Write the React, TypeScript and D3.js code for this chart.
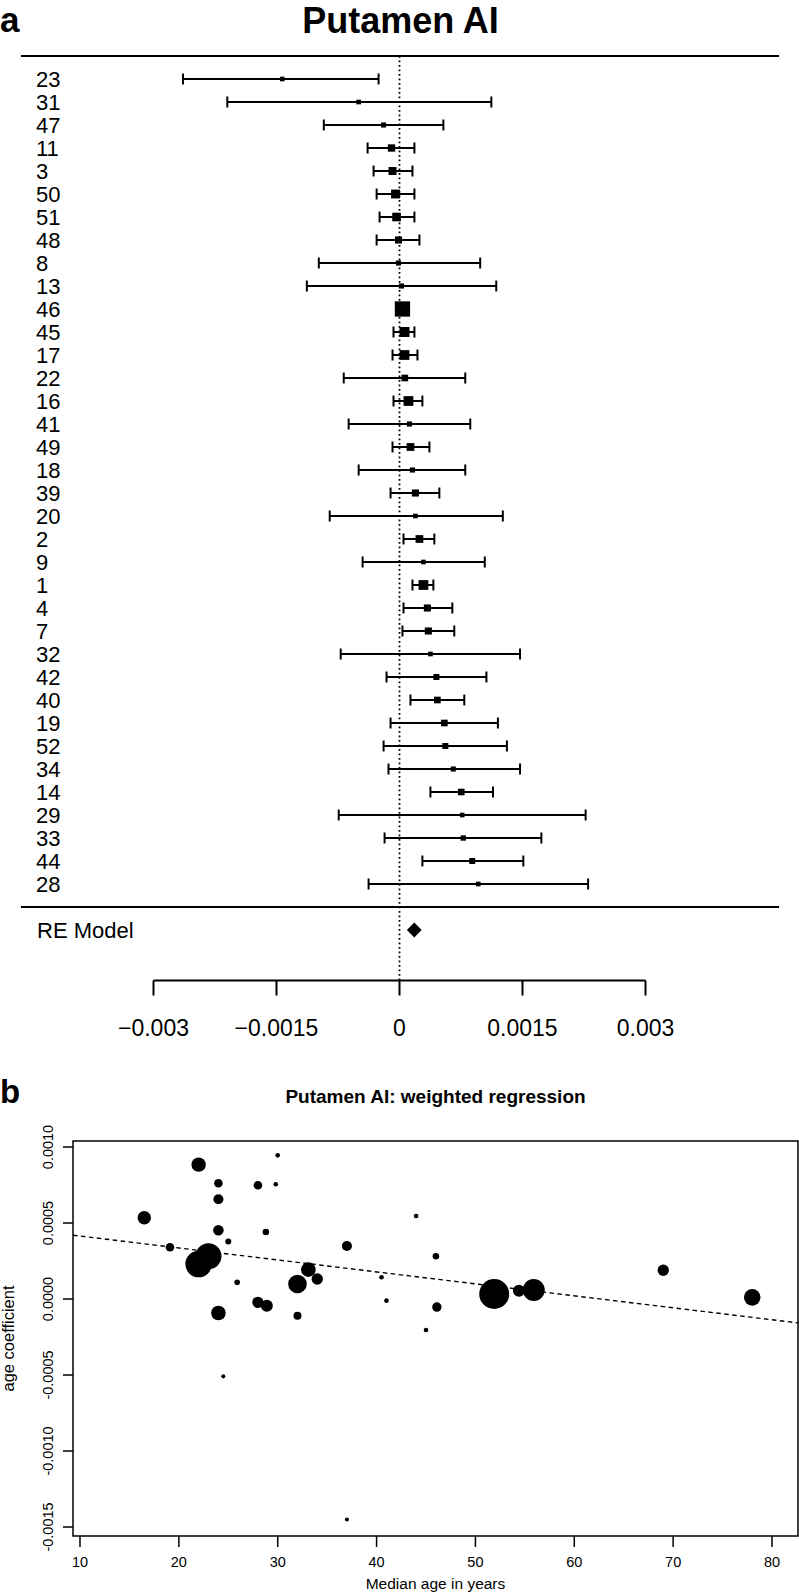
import * as d3 from 'd3';
import { type FC } from 'react';

// panel a: forest plot rows, top to bottom
const studyLabels = ['23', '31', '47', '11', '3', '50', '51', '48', '8', '13', '46', '45', '17', '22', '16', '41', '49', '18', '39', '20', '2', '9', '1', '4', '7', '32', '42', '40', '19', '52', '34', '14', '29', '33', '44', '28'];
// estimates and 95% CI, in units of 1e-4
const estimates = [-14.3, -4.98, -1.94, -0.97, -0.85, -0.49, -0.36, -0.12, -0.12, 0.24, 0.36, 0.61, 0.61, 0.65, 1.09, 1.22, 1.34, 1.58, 1.94, 1.94, 2.43, 2.92, 2.92, 3.4, 3.52, 3.77, 4.5, 4.62, 5.47, 5.59, 6.56, 7.53, 7.65, 7.78, 8.87, 9.6];
const ciLower = [-26.4, -21.0, -9.23, -3.89, -3.16, -2.79, -2.43, -2.79, -9.84, -11.3, -0.4, -0.73, -0.85, -6.8, -0.73, -6.2, -0.85, -4.98, -1.09, -8.51, 0.49, -4.5, 1.58, 0.49, 0.36, -7.17, -1.58, 1.34, -1.09, -1.94, -1.34, 3.77, -7.41, -1.82, 2.79, -3.77];
const ciUpper = [-2.55, 11.2, 5.35, 1.82, 1.58, 1.82, 1.82, 2.43, 9.84, 11.8, 1.1, 1.82, 2.19, 8.02, 2.79, 8.63, 3.65, 8.02, 4.86, 12.6, 4.25, 10.4, 4.13, 6.44, 6.68, 14.7, 10.6, 7.9, 12.0, 13.1, 14.7, 11.4, 22.7, 17.3, 15.1, 23.0];
// relative study weights (%)
const studyWeights = [2.1, 2.1, 2.3, 3.3, 3.6, 4.0, 3.9, 3.2, 2.3, 2.3, 6.9, 4.5, 4.4, 3.0, 4.4, 2.3, 3.5, 2.3, 3.2, 2.1, 3.5, 2.1, 4.4, 3.2, 3.2, 2.1, 2.7, 3.0, 3.0, 2.7, 2.3, 3.0, 2.1, 2.4, 2.7, 2.1];
const reModel = { est: 1.8, lo: 0.9, hi: 2.7 };
const forestTicks = [-0.003, -0.0015, 0, 0.0015, 0.003];
const forestTickLabels = ['\u22120.003', '\u22120.0015', '0', '0.0015', '0.003'];

// panel b: weighted regression
const medianAge = [22.0, 24.0, 28.0, 29.8, 30.0, 24.0, 16.5, 24.0, 28.8, 25.0, 19.1, 22.0, 23.0, 37.0, 25.9, 32.0, 33.1, 34.0, 40.5, 41.0, 28.0, 28.9, 24.0, 32.0, 24.5, 37.0, 44.0, 46.0, 69.0, 51.9, 54.4, 55.9, 78.0, 46.1, 45.0];
const ageCoef = [8.84, 7.61, 7.48, 7.55, 9.45, 6.56, 5.35, 4.52, 4.41, 3.79, 3.4, 2.3, 2.81, 3.49, 1.1, 0.99, 1.93, 1.32, 1.43, -0.11, -0.22, -0.44, -0.92, -1.1, -5.09, -14.5, 5.46, 2.81, 1.89, 0.33, 0.55, 0.59, 0.11, -0.53, -2.04];
const pointWeights = [23, 8.2, 8.2, 2.4, 2.4, 11.1, 20, 12.5, 4.8, 4, 8.2, 78.6, 75, 11.1, 3.5, 38.4, 23.7, 14.4, 2.4, 2.4, 14.4, 16, 23.7, 7.1, 1.8, 1.8, 2.4, 4.8, 14.4, 100, 16, 53.8, 30.6, 9.8, 2.4];
const fit = { intercept: 4.93, slope: -0.0787 }; // 1e-4 units
const ageTicks = [10, 20, 30, 40, 50, 60, 70, 80];
const coefTicks = [-0.0015, -0.001, -0.0005, 0, 0.0005, 0.001];
const coefTickLabels = ['-0.0015', '-0.0010', '-0.0005', '0.0000', '0.0005', '0.0010'];

const W = 799;
const H = 1593;
const font = "'Liberation Sans', Arial, sans-serif";

const ForestPlot: FC = () => {
  const x = d3.scaleLinear([-0.003, 0.003], [153.5, 645.5]);
  const y = d3.scaleLinear([0, 35], [79, 884]);
  const size = d3.scaleLinear([0, d3.max(studyWeights) as number], [0, 15.3]);
  const axisY = 980.5;
  const reY = y(37);
  const diamond = [
    [x(reModel.lo * 1e-4), reY],
    [x(reModel.est * 1e-4), reY - 7.5],
    [x(reModel.hi * 1e-4), reY],
    [x(reModel.est * 1e-4), reY + 7.5],
  ];
  return (
    <g fontFamily={font}>
      <text x={0} y={32} fontSize={35} fontWeight='bold'>a</text>
      <text x={400.5} y={33} fontSize={36} fontWeight='bold' textAnchor='middle'>Putamen AI</text>
      <line x1={21} x2={779} y1={y(-1)} y2={y(-1)} stroke='#000' strokeWidth={2} />
      <line x1={21} x2={779} y1={y(36)} y2={y(36)} stroke='#000' strokeWidth={2} />
      <line x1={x(0)} x2={x(0)} y1={y(-1)} y2={axisY} stroke='#000' strokeWidth={1.8} strokeDasharray='1.8 2.7' />
      {studyLabels.map((lab, i) => {
        const cy = y(i);
        const s = size(studyWeights[i]);
        return (
          <g key={lab}>
            <text x={36} y={cy + 7.8} fontSize={22}>{lab}</text>
            <line x1={x(ciLower[i] * 1e-4)} x2={x(ciUpper[i] * 1e-4)} y1={cy} y2={cy} stroke='#000' strokeWidth={2} />
            <line x1={x(ciLower[i] * 1e-4)} x2={x(ciLower[i] * 1e-4)} y1={cy - 5.5} y2={cy + 5.5} stroke='#000' strokeWidth={2} />
            <line x1={x(ciUpper[i] * 1e-4)} x2={x(ciUpper[i] * 1e-4)} y1={cy - 5.5} y2={cy + 5.5} stroke='#000' strokeWidth={2} />
            <rect x={x(estimates[i] * 1e-4) - s / 2} y={cy - s / 2} width={s} height={s} fill='#000' />
          </g>
        );
      })}
      <text x={37} y={reY + 7.8} fontSize={22}>RE Model</text>
      <polygon points={diamond.map((p) => p.join(',')).join(' ')} fill='#000' />
      <line x1={x(-0.003)} x2={x(0.003)} y1={axisY} y2={axisY} stroke='#000' strokeWidth={2} />
      {forestTicks.map((t, i) => (
        <g key={t}>
          <line x1={x(t)} x2={x(t)} y1={axisY} y2={axisY + 15} stroke='#000' strokeWidth={2} />
          <text x={x(t)} y={1036} fontSize={23} textAnchor='middle'>{forestTickLabels[i]}</text>
        </g>
      ))}
    </g>
  );
};

const Regression: FC = () => {
  const left = 73;
  const right = 798;
  const top = 1141;
  const bottom = 1536;
  const x = d3.scaleLinear([10, 80], [80, 772]);
  const y = d3.scaleLinear([-0.0015, 0.001], [1527, 1147]);
  const r = d3.scaleSqrt([0, 100], [0, 15]);
  const a0 = x.invert(left);
  const a1 = x.invert(right);
  const fitLine = d3.line<number>((a) => x(a), (a) => y((fit.intercept + fit.slope * a) * 1e-4));
  const points = d3.sort(d3.range(medianAge.length), (i) => -pointWeights[i]);
  return (
    <g fontFamily={font}>
      <text x={0} y={1103} fontSize={33} fontWeight='bold'>b</text>
      <text x={(left + right) / 2} y={1103} fontSize={19} fontWeight='bold' textAnchor='middle'>Putamen AI: weighted regression</text>
      <defs>
        <clipPath id='box'>
          <rect x={left} y={top} width={right - left} height={bottom - top} />
        </clipPath>
      </defs>
      <g clipPath='url(#box)'>
        {points.map((i) => (
          <circle key={i} cx={x(medianAge[i])} cy={y(ageCoef[i] * 1e-4)} r={r(pointWeights[i])} fill='#000' />
        ))}
        <path d={fitLine([a0, a1]) ?? undefined} fill='none' stroke='#000' strokeWidth={1.4} strokeDasharray='4.5 3.5' />
      </g>
      <rect x={left} y={top} width={right - left} height={bottom - top} fill='none' stroke='#000' strokeWidth={1.5} />
      {ageTicks.map((t) => (
        <g key={t}>
          <line x1={x(t)} x2={x(t)} y1={bottom} y2={bottom + 11} stroke='#000' strokeWidth={1.5} />
          <text x={x(t)} y={1567} fontSize={14.5} textAnchor='middle'>{t}</text>
        </g>
      ))}
      {coefTicks.map((t, i) => (
        <g key={t}>
          <line x1={left - 10} x2={left} y1={y(t)} y2={y(t)} stroke='#000' strokeWidth={1.5} />
          <text transform={`translate(53,${y(t)}) rotate(-90)`} fontSize={14.5} textAnchor='middle'>{coefTickLabels[i]}</text>
        </g>
      ))}
      <text x={(left + right) / 2} y={1589} fontSize={15.5} textAnchor='middle'>Median age in years</text>
      <text transform={`translate(14,${(top + bottom) / 2}) rotate(-90)`} fontSize={16.5} textAnchor='middle'>age coefficient</text>
    </g>
  );
};

const App: FC = () => (
  <svg width={W} height={H} viewBox={`0 0 ${W} ${H}`} style={{ position: 'absolute', left: 0, top: 0, background: '#fff' }}>
    <rect width={W} height={H} fill='#fff' />
    <ForestPlot />
    <Regression />
  </svg>
);

export default App;
